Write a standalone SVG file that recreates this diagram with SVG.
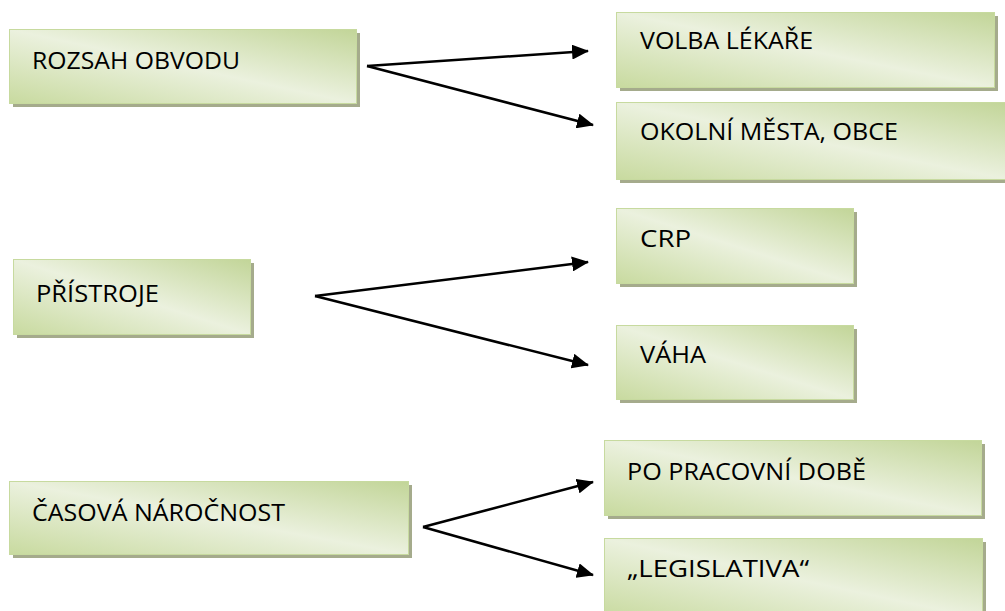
<svg xmlns="http://www.w3.org/2000/svg" width="1005" height="611" viewBox="0 0 1005 611">
  <defs>
    <linearGradient id="boxFill" x1="1" y1="0" x2="0" y2="1">
      <stop offset="0" stop-color="#c2d598"/>
      <stop offset="0.5" stop-color="#ebf1de"/>
      <stop offset="1" stop-color="#c8da9f"/>
    </linearGradient>
    <marker id="arrow" markerWidth="17" markerHeight="15" refX="16" refY="7.5" orient="auto" markerUnits="userSpaceOnUse">
      <path d="M0,0 L17,7.5 L0,15 Z" fill="#000"/>
    </marker>
    <style>
      .shadow { fill: #a5ab8c; }
      .box { fill: url(#boxFill); stroke: #c7da9f; stroke-width: 1; }
      .label { font-family: "Open Sans", "Liberation Sans", sans-serif; font-size: 24.5px; fill: #000; }
      .conn { stroke: #000; stroke-width: 2.6; fill: none; marker-end: url(#arrow); }
    </style>
  </defs>
  <rect width="1005" height="611" fill="#fff"/>

  <g id="node-rozsah">
    <rect class="shadow" x="13" y="33" width="347" height="74"/>
    <rect class="box" x="9.5" y="29.5" width="347" height="74"/>
    <text class="label" x="32" y="69" textLength="208" lengthAdjust="spacingAndGlyphs">ROZSAH OBVODU</text>
  </g>
  <g id="node-volba">
    <rect class="shadow" x="620" y="16" width="378" height="75"/>
    <rect class="box" x="616.5" y="12.5" width="378" height="75"/>
    <text class="label" x="640" y="49" textLength="173" lengthAdjust="spacingAndGlyphs">VOLBA LÉKAŘE</text>
  </g>
  <g id="node-okolni">
    <rect class="shadow" x="620" y="106" width="392" height="77"/>
    <rect class="box" x="616.5" y="102.5" width="392" height="77"/>
    <text class="label" x="640" y="140" textLength="258" lengthAdjust="spacingAndGlyphs">OKOLNÍ MĚSTA, OBCE</text>
  </g>
  <g id="node-pristroje">
    <rect class="shadow" x="17" y="263" width="237" height="75"/>
    <rect class="box" x="13.5" y="259.5" width="237" height="75"/>
    <text class="label" x="36" y="302" textLength="123" lengthAdjust="spacingAndGlyphs">PŘÍSTROJE</text>
  </g>
  <g id="node-crp">
    <rect class="shadow" x="620" y="212" width="237" height="75"/>
    <rect class="box" x="616.5" y="208.5" width="237" height="75"/>
    <text class="label" x="640" y="247" textLength="51" lengthAdjust="spacingAndGlyphs">CRP</text>
  </g>
  <g id="node-vaha">
    <rect class="shadow" x="620" y="329" width="237" height="74"/>
    <rect class="box" x="616.5" y="325.5" width="237" height="74"/>
    <text class="label" x="640" y="363" textLength="66" lengthAdjust="spacingAndGlyphs">VÁHA</text>
  </g>
  <g id="node-casova">
    <rect class="shadow" x="13" y="485" width="399" height="73"/>
    <rect class="box" x="9.5" y="481.5" width="399" height="73"/>
    <text class="label" x="32" y="521" textLength="253" lengthAdjust="spacingAndGlyphs">ČASOVÁ NÁROČNOST</text>
  </g>
  <g id="node-po-pracovni">
    <rect class="shadow" x="608" y="444" width="377" height="75"/>
    <rect class="box" x="604.5" y="440.5" width="377" height="75"/>
    <text class="label" x="627" y="480" textLength="239" lengthAdjust="spacingAndGlyphs">PO PRACOVNÍ DOBĚ</text>
  </g>
  <g id="node-legislativa">
    <rect class="shadow" x="608" y="542" width="378" height="80"/>
    <rect class="box" x="604.5" y="538.5" width="378" height="80"/>
    <text class="label" x="627" y="577" textLength="182" lengthAdjust="spacingAndGlyphs">„LEGISLATIVA“</text>
  </g>

  <g id="connectors">
    <line class="conn" x1="367" y1="66" x2="588" y2="51"/>
    <line class="conn" x1="367" y1="66" x2="593" y2="125"/>
    <line class="conn" x1="315" y1="296" x2="588" y2="262"/>
    <line class="conn" x1="315" y1="296" x2="588" y2="365"/>
    <line class="conn" x1="423" y1="527" x2="593" y2="482"/>
    <line class="conn" x1="423" y1="527" x2="593" y2="575"/>
  </g>
</svg>
